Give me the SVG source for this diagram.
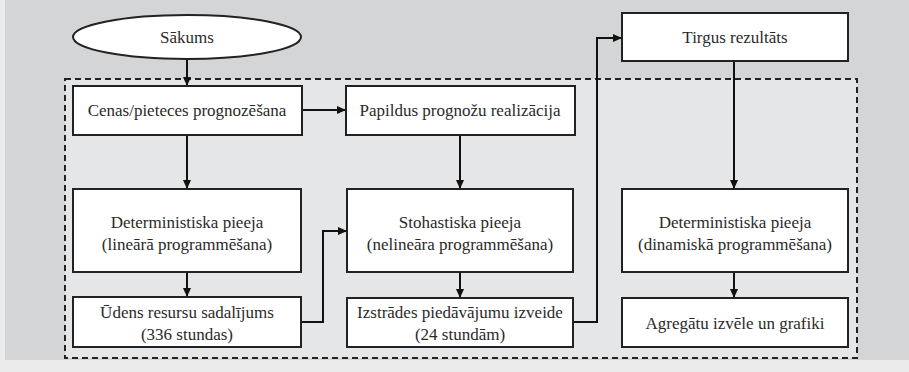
<svg xmlns="http://www.w3.org/2000/svg" width="909" height="372" viewBox="0 0 909 372">
<defs>
<marker id="ah" markerWidth="10" markerHeight="10" refX="9" refY="5" orient="auto" markerUnits="userSpaceOnUse">
<path d="M0,1 L9,5 L0,9 Z" fill="#111"/>
</marker>
<style>
.box{fill:#fff;stroke:#222;stroke-width:2}
.t{font-family:Liberation Serif,Tinos,Times New Roman,Times,Noto Serif,DejaVu Serif,serif;font-size:17px;fill:#2a2a2a;text-anchor:middle}
.c{fill:none;stroke:#111;stroke-width:2;marker-end:url(#ah)}
</style>
</defs>
<rect x="0" y="0" width="909" height="372" fill="#ebebeb"/>
<rect x="5" y="0" width="904" height="360" fill="#d4d5d7"/>
<rect x="65" y="79" width="792" height="279" fill="#e5e6e8" stroke="#222" stroke-width="2" stroke-dasharray="6,4"/>
<g id="connectors">
<path class="c" d="M187,59 V86"/>
<path class="c" d="M302,110 H346"/>
<path class="c" d="M187,135 V189"/>
<path class="c" d="M460,135 V189"/>
<path class="c" d="M187,272 V297"/>
<path class="c" d="M460,272 V298"/>
<path class="c" d="M301,322 H323 V231 H347"/>
<path class="c" d="M573,322 H597 V38 H622"/>
<path class="c" d="M734,61 V189"/>
<path class="c" d="M734,272 V298"/>
</g>
<g id="sakums">
<ellipse cx="187" cy="37" rx="114" ry="22" fill="#fff" stroke="#222" stroke-width="2"/>
<text class="t" x="187" y="43">Sākums</text>
</g>
<g id="cenas">
<rect class="box" x="73" y="86" width="229" height="49"/>
<text class="t" x="187" y="116">Cenas/pieteces prognozēšana</text>
</g>
<g id="papildus">
<rect class="box" x="346" y="86" width="229" height="49"/>
<text class="t" x="460" y="116">Papildus prognožu realizācija</text>
</g>
<g id="tirgus">
<rect class="box" x="622" y="13" width="226" height="48"/>
<text class="t" x="735" y="43">Tirgus rezultāts</text>
</g>
<g id="det-lin">
<rect class="box" x="73" y="189" width="228" height="83"/>
<text class="t" x="187" y="228">Deterministiska pieeja</text>
<text class="t" x="187" y="250">(lineārā programmēšana)</text>
</g>
<g id="stoh">
<rect class="box" x="347" y="189" width="226" height="83"/>
<text class="t" x="460" y="228">Stohastiska pieeja</text>
<text class="t" x="460" y="250">(nelineāra programmēšana)</text>
</g>
<g id="det-din">
<rect class="box" x="622" y="189" width="226" height="83"/>
<text class="t" x="735" y="228">Deterministiska pieeja</text>
<text class="t" x="735" y="250">(dinamiskā programmēšana)</text>
</g>
<g id="udens">
<rect class="box" x="73" y="297" width="228" height="50"/>
<text class="t" x="187" y="318">Ūdens resursu sadalījums</text>
<text class="t" x="187" y="340">(336 stundas)</text>
</g>
<g id="izstrades">
<rect class="box" x="347" y="298" width="226" height="49"/>
<text class="t" x="460" y="318">Izstrādes piedāvājumu izveide</text>
<text class="t" x="460" y="340">(24 stundām)</text>
</g>
<g id="agregatu">
<rect class="box" x="622" y="298" width="226" height="49"/>
<text class="t" x="735" y="329">Agregātu izvēle un grafiki</text>
</g>
</svg>
